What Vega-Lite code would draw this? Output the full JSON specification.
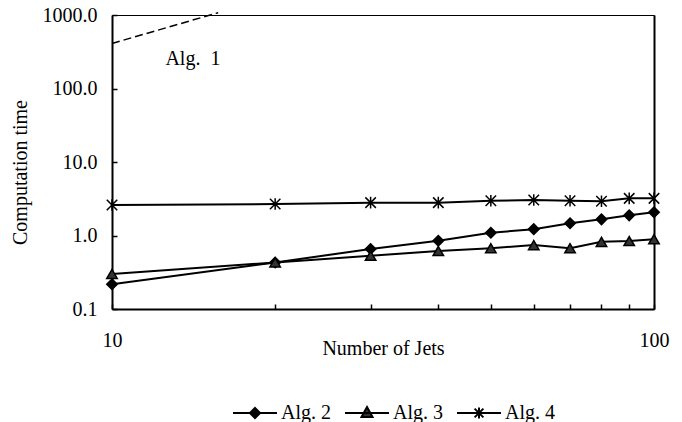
{
  "$schema": "https://vega.github.io/schema/vega-lite/v6.json",
  "width": 542,
  "height": 294,
  "autosize": {"type": "none"},
  "padding": {"left": 112, "top": 15, "right": 28, "bottom": 113},
  "background": "white",
  "config": {
    "view": {"stroke": "black", "strokeWidth": 1},
    "font": "Liberation Serif",
    "axis": {
      "grid": false,
      "labelFont": "Liberation Serif",
      "titleFont": "Liberation Serif",
      "labelFontSize": 20,
      "titleFontSize": 20,
      "titleFontWeight": "normal",
      "labelColor": "black",
      "titleColor": "black",
      "domainColor": "black",
      "tickColor": "black",
      "domainWidth": 2,
      "tickWidth": 1.5,
      "tickSize": -5,
      "labelFlush": false
    },
    "legend": {"labelFont": "Liberation Serif", "labelFontSize": 20, "labelColor": "black"}
  },
  "datasets": {
    "series": [
      {"series": "Alg. 1", "jets": 10, "time": 410},
      {"series": "Alg. 1", "jets": 15.7, "time": 1075},
      {"series": "Alg. 2", "jets": 10, "time": 0.217},
      {"series": "Alg. 2", "jets": 20, "time": 0.43},
      {"series": "Alg. 2", "jets": 30, "time": 0.655},
      {"series": "Alg. 2", "jets": 40, "time": 0.85},
      {"series": "Alg. 2", "jets": 50, "time": 1.09},
      {"series": "Alg. 2", "jets": 60, "time": 1.22},
      {"series": "Alg. 2", "jets": 70, "time": 1.47},
      {"series": "Alg. 2", "jets": 80, "time": 1.66},
      {"series": "Alg. 2", "jets": 90, "time": 1.88},
      {"series": "Alg. 2", "jets": 100, "time": 2.07},
      {"series": "Alg. 3", "jets": 10, "time": 0.30},
      {"series": "Alg. 3", "jets": 20, "time": 0.43},
      {"series": "Alg. 3", "jets": 30, "time": 0.53},
      {"series": "Alg. 3", "jets": 40, "time": 0.615},
      {"series": "Alg. 3", "jets": 50, "time": 0.67},
      {"series": "Alg. 3", "jets": 60, "time": 0.74},
      {"series": "Alg. 3", "jets": 70, "time": 0.67},
      {"series": "Alg. 3", "jets": 80, "time": 0.82},
      {"series": "Alg. 3", "jets": 90, "time": 0.84},
      {"series": "Alg. 3", "jets": 100, "time": 0.89},
      {"series": "Alg. 4", "jets": 10, "time": 2.6},
      {"series": "Alg. 4", "jets": 20, "time": 2.68},
      {"series": "Alg. 4", "jets": 30, "time": 2.8},
      {"series": "Alg. 4", "jets": 40, "time": 2.8},
      {"series": "Alg. 4", "jets": 50, "time": 2.97},
      {"series": "Alg. 4", "jets": 60, "time": 3.04},
      {"series": "Alg. 4", "jets": 70, "time": 2.97},
      {"series": "Alg. 4", "jets": 80, "time": 2.92},
      {"series": "Alg. 4", "jets": 90, "time": 3.2},
      {"series": "Alg. 4", "jets": 100, "time": 3.2}
    ],
    "notes": [
      {"label": "Alg. \u00a01", "jets": 14.1, "time": 250}
    ]
  },
  "layer": [
    {
      "data": {"name": "series"},
      "transform": [{"filter": "datum.series != 'Alg. 1'"}],
      "mark": {"type": "line", "color": "black", "strokeWidth": 2},
      "encoding": {
        "x": {
          "field": "jets", "type": "quantitative",
          "scale": {"type": "log", "domain": [10, 100], "nice": false},
          "axis": {
            "title": "Number of Jets",
            "values": [10, 20, 30, 40, 50, 60, 70, 80, 90, 100],
            "format": ".0f",
            "labelExpr": "datum.value == 10 || datum.value == 100 ? datum.label : ''",
            "labelPadding": 26,
            "titleY": 45,
            "titleBaseline": "alphabetic"
          }
        },
        "y": {
          "field": "time", "type": "quantitative",
          "scale": {"type": "log", "domain": [0.1, 1000], "nice": false},
          "axis": {
            "orient": "left",
            "title": "Computation time",
            "values": [0.1, 1, 10, 100, 1000],
            "format": ".1f",
            "labelPadding": 20,
            "titleX": -92,
            "titleY": 157,
            "titleAlign": "center",
            "titleBaseline": "middle",
            "titleAngle": -90
          }
        },
        "detail": {"field": "series"}
      }
    },
    {
      "data": {"name": "series"},
      "transform": [{"filter": "datum.series == 'Alg. 1'"}],
      "mark": {"type": "line", "color": "black", "strokeWidth": 1.5, "strokeDash": [8, 4], "clip": false},
      "encoding": {
        "x": {"field": "jets", "type": "quantitative"},
        "y": {"field": "time", "type": "quantitative", "axis": null}
      }
    },
    {
      "data": {"name": "series"},
      "transform": [{"filter": "datum.series != 'Alg. 1'"}],
      "mark": {"type": "point", "filled": true, "stroke": "black", "strokeWidth": 1.5, "size": 110, "opacity": 1},
      "encoding": {
        "x": {"field": "jets", "type": "quantitative"},
        "y": {"field": "time", "type": "quantitative", "axis": null},
        "shape": {
          "field": "series", "type": "nominal",
          "scale": {"domain": ["Alg. 2", "Alg. 3", "Alg. 4"], "range": ["diamond", "triangle-up", "M-1,-1L1,1M-1,1L1,-1M0,-1.1L0,1.1"]},
          "legend": null
        },
        "fill": {
          "field": "series", "type": "nominal",
          "scale": {"domain": ["Alg. 2", "Alg. 3", "Alg. 4"], "range": ["black", "#333333", "black"]},
          "legend": null
        }
      }
    },
    {
      "data": {"name": "series"},
      "transform": [{"filter": "false"}],
      "mark": {"type": "point", "filled": true, "strokeWidth": 2, "opacity": 1},
      "encoding": {
        "shape": {
          "field": "series", "type": "nominal",
          "scale": {"domain": ["Alg. 2", "Alg. 3", "Alg. 4"], "range": [
            "M-1,0H1M0,-0.23L0.23,0L0,0.23L-0.23,0Z",
            "M-1,0H1M0,-0.27L0.25,0.18L-0.25,0.18Z",
            "M-1,0H1M-0.2,-0.2L0.2,0.2M-0.2,0.2L0.2,-0.2M0,-0.25L0,0.25"
          ]},
          "legend": {
            "title": null, "orient": "none", "direction": "horizontal",
            "legendX": 120, "legendY": 375,
            "symbolSize": 1936, "labelOffset": 3, "columnPadding": 10,
            "symbolStrokeWidth": 2
          }
        },
        "fill": {
          "field": "series", "type": "nominal",
          "scale": {"domain": ["Alg. 2", "Alg. 3", "Alg. 4"], "range": ["black", "#333333", "black"]},
          "legend": {
            "title": null, "orient": "none", "direction": "horizontal",
            "legendX": 120, "legendY": 375,
            "symbolSize": 1936, "labelOffset": 3, "columnPadding": 10,
            "symbolStrokeWidth": 2
          }
        },
        "stroke": {
          "field": "series", "type": "nominal",
          "scale": {"domain": ["Alg. 2", "Alg. 3", "Alg. 4"], "range": ["black", "black", "black"]},
          "legend": {
            "title": null, "orient": "none", "direction": "horizontal",
            "legendX": 120, "legendY": 375,
            "symbolSize": 1936, "labelOffset": 3, "columnPadding": 10,
            "symbolStrokeWidth": 2
          }
        }
      }
    },
    {
      "data": {"name": "notes"},
      "mark": {"type": "text", "font": "Liberation Serif", "fontSize": 20, "color": "black", "align": "center", "baseline": "middle"},
      "encoding": {
        "x": {"field": "jets", "type": "quantitative"},
        "y": {
          "field": "time", "type": "quantitative",
          "axis": {"orient": "right", "labels": false, "ticks": false, "title": null, "domainWidth": 2, "domainColor": "black"}
        },
        "text": {"field": "label"}
      }
    }
  ],
  "resolve": {
    "scale": {"shape": "independent", "fill": "independent", "stroke": "independent"},
    "axis": {"y": "independent"}
  }
}
